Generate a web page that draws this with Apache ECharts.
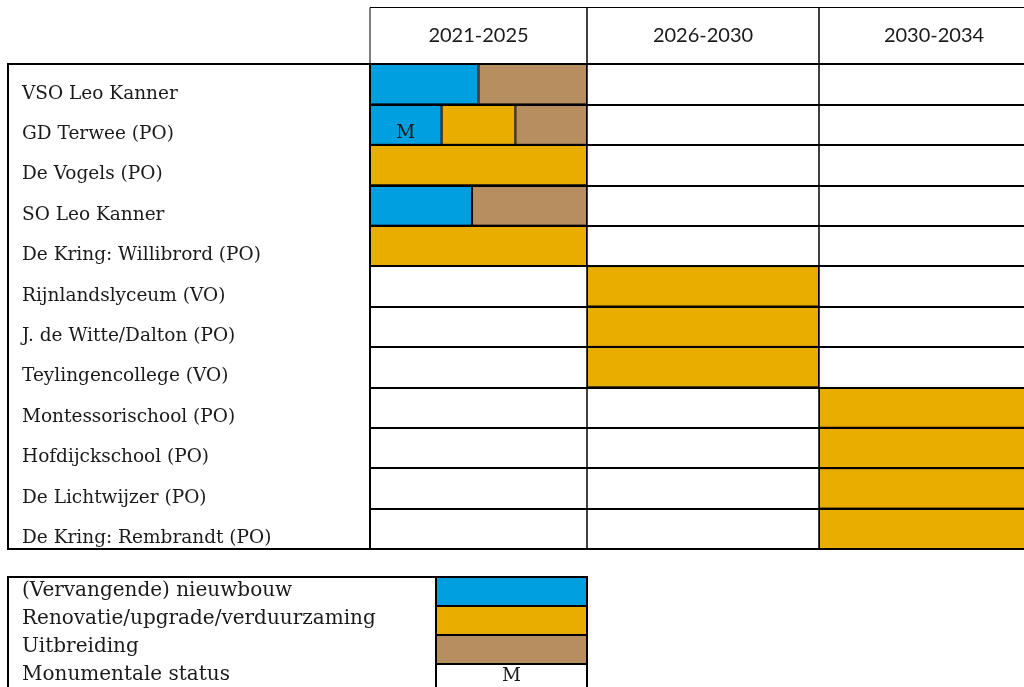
<!DOCTYPE html>
<html>
<head>
<meta charset="utf-8">
<title>Planning schoolgebouwen</title>
<script src="https://cdn.jsdelivr.net/npm/echarts@6/dist/echarts.min.js"></script>
<style>
  html, body { margin: 0; padding: 0; background: #fff; }
  #chart { width: 1024px; height: 687px; }
</style>
</head>
<body>
<div id="chart"></div>
<script>
// schools, top to bottom
const schools = [
  "VSO Leo Kanner",
  "GD Terwee (PO)",
  "De Vogels (PO)",
  "SO Leo Kanner",
  "De Kring: Willibrord (PO)",
  "Rijnlandslyceum (VO)",
  "J. de Witte/Dalton (PO)",
  "Teylingencollege (VO)",
  "Montessorischool (PO)",
  "Hofdijckschool (PO)",
  "De Lichtwijzer (PO)",
  "De Kring: Rembrandt (PO)",
];
const periods = ["2021-2025", "2026-2030", "2030-2034"];

// share of each period taken by a kind of work: one row per period, one value per school
const nieuwbouw = [
  [0.5, 0.33, 0, 0.47, 0, 0, 0, 0, 0, 0, 0, 0],
  [0, 0, 0, 0, 0, 0, 0, 0, 0, 0, 0, 0],
  [0, 0, 0, 0, 0, 0, 0, 0, 0, 0, 0, 0],
];
const renovatie = [
  [0, 0.34, 1, 0, 1, 0, 0, 0, 0, 0, 0, 0],
  [0, 0, 0, 0, 0, 1, 1, 1, 0, 0, 0, 0],
  [0, 0, 0, 0, 0, 0, 0, 0, 1, 1, 1, 1],
];
const uitbreiding = [
  [0.5, 0.33, 0, 0.53, 0, 0, 0, 0, 0, 0, 0, 0],
  [0, 0, 0, 0, 0, 0, 0, 0, 0, 0, 0, 0],
  [0, 0, 0, 0, 0, 0, 0, 0, 0, 0, 0, 0],
];
const monumentaal = [false, true, false, false, false, false, false, false, false, false, false, false];

const legendItems = [
  "(Vervangende) nieuwbouw",
  "Renovatie/upgrade/verduurzaming",
  "Uitbreiding",
  "Monumentale status",
];
const legendFill = [1, 1, 1, 1];

const kinds = [nieuwbouw, renovatie, uitbreiding];
const kindColors = ["#009fdf", "#e9ad00", "#b78e60"];
const legendColors = kindColors.concat(["#ffffff"]);

// layout
const colLeft = [370, 587, 819];
const colWidth = [217, 232, 230];
const serif = "DejaVu Serif";
const labelStyle = { fontFamily: serif, fontSize: 18.5, color: "#1a1a1a" };
const legendStyle = { fontFamily: serif, fontSize: 20, color: "#1a1a1a" };

const hiddenX = (g) => ({ gridIndex: g, type: "value", min: 0, max: 1, show: false });
const hiddenY = (g, data) => ({ gridIndex: g, type: "category", data: data, inverse: true, show: false });

const grid = [];
const xAxis = [];
const yAxis = [];
const series = [];

// 0: label box
grid.push({ left: 8, top: 64, width: 362, height: 485, show: true, borderColor: "#000", borderWidth: 2 });
xAxis.push(hiddenX(0));
yAxis.push({
  gridIndex: 0, type: "category", data: schools, inverse: true,
  axisLine: { show: false }, axisTick: { show: false }, splitLine: { show: false },
  axisLabel: Object.assign({ inside: true, margin: 14, interval: 0, verticalAlign: "top", lineHeight: 19 }, labelStyle),
});

// 1..3: one grid per period
periods.forEach((period, p) => {
  const g = grid.length;
  grid.push({ left: colLeft[p], top: 64, width: colWidth[p], height: 485, show: true, borderColor: "#000", borderWidth: 1 });
  xAxis.push({
    gridIndex: g, type: "value", min: 0, max: 1, position: "top",
    name: period, nameLocation: "middle", nameGap: 28,
    nameTextStyle: { fontFamily: "Lato", fontSize: 20, color: "#1a1a1a", verticalAlign: "middle" },
    axisLine: { show: false }, axisTick: { show: false }, axisLabel: { show: false }, splitLine: { show: false },
  });
  yAxis.push({
    gridIndex: g, type: "category", data: schools, inverse: true, z: 5,
    axisLine: { show: false }, axisTick: { show: false }, axisLabel: { show: false },
    splitLine: { show: true, interval: 0, lineStyle: { color: "#000", width: 2 } },
  });
  kinds.forEach((kind, k) => {
    series.push({
      type: "bar", xAxisIndex: g, yAxisIndex: g, stack: "p" + p,
      barWidth: "100%", silent: true,
      data: kind[p].map((v) => (v ? v : "-")),
      itemStyle: { color: kindColors[k], borderColor: "#000", borderWidth: 1 },
      label: k === 0 ? Object.assign({
        show: true, position: "inside", offset: [0, 9],
        formatter: (d) => (monumentaal[d.dataIndex] ? "M" : ""),
      }, labelStyle) : { show: false },
    });
  });
});

// 4..6: header boxes
periods.forEach((period, p) => {
  const g = grid.length;
  grid.push({ left: colLeft[p], top: 7.5, width: colWidth[p], height: 56.5, show: true, borderColor: "#000", borderWidth: 1 });
  xAxis.push(hiddenX(g));
  yAxis.push(hiddenY(g, [period]));
});

// 7: legend frame with texts
grid.push({ left: 8, top: 577, width: 579, height: 112, show: true, borderColor: "#000", borderWidth: 2 });
xAxis.push(hiddenX(7));
yAxis.push({
  gridIndex: 7, type: "category", data: legendItems, inverse: true,
  axisLine: { show: false }, axisTick: { show: false }, splitLine: { show: false },
  axisLabel: Object.assign({ inside: true, margin: 14, interval: 0 }, legendStyle),
});

// 8: legend swatches
grid.push({ left: 436, top: 577, width: 151, height: 116, show: true, borderColor: "#000", borderWidth: 2 });
xAxis.push(hiddenX(8));
yAxis.push({
  gridIndex: 8, type: "category", data: legendItems, inverse: true, z: 5,
  axisLine: { show: false }, axisTick: { show: false }, axisLabel: { show: false },
  splitLine: { show: true, interval: 0, lineStyle: { color: "#000", width: 2 } },
});
series.push({
  type: "bar", xAxisIndex: 8, yAxisIndex: 8, barWidth: "100%", silent: true,
  data: legendFill.map((v, i) => ({ value: v, itemStyle: { color: legendColors[i] } })),
  itemStyle: { borderColor: "#000", borderWidth: 1 },
  label: Object.assign({
    show: true, position: "inside", offset: [0, -2],
    formatter: (d) => (d.dataIndex === 3 ? "M" : ""),
  }, labelStyle),
});

grid.forEach((g) => { g.outerBoundsMode = "none"; });

const chart = echarts.init(document.getElementById("chart"), null, { renderer: "canvas" });
chart.setOption({
  animation: false,
  backgroundColor: "#fff",
  grid: grid,
  xAxis: xAxis,
  yAxis: yAxis,
  series: series,
});
</script>
</body>
</html>
